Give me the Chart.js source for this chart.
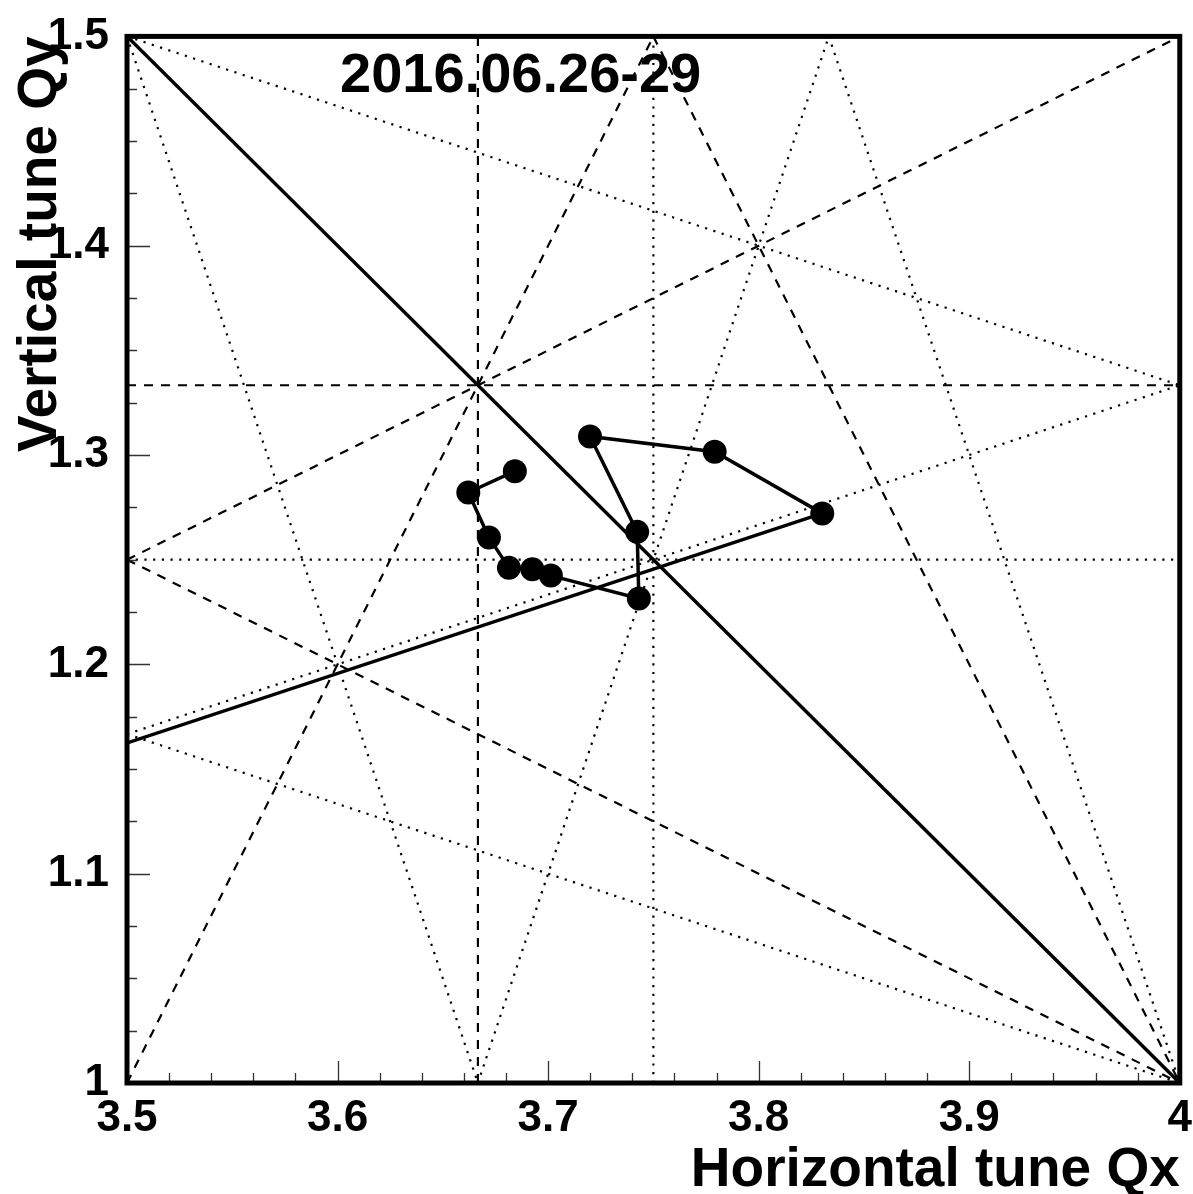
<!DOCTYPE html>
<html>
<head>
<meta charset="utf-8">
<title>Tune diagram</title>
<script src="https://cdn.jsdelivr.net/npm/chart.js@4.4.1/dist/chart.umd.min.js"></script>
<style>
  html, body { margin: 0; padding: 0; background: #fff; }
</style>
</head>
<body>
<canvas id="tuneChart" width="1193" height="1194"></canvas>
<script>
const periodLabel = '2016.06.26-29';

// measured working point, last entry is the empty (0,0) slot of the graph
const tuneQx = [3.6842, 3.6621, 3.6719, 3.6814, 3.6925, 3.7013, 3.7431, 3.7423, 3.7199, 3.7791, 3.8302, 0];
const tuneQy = [1.2923, 1.2821, 1.2606, 1.2461, 1.2454, 1.2424, 1.2315, 1.2633, 1.3089, 1.3016, 1.2721, 0];

const qxTicks = [3.5, 3.6, 3.7, 3.8, 3.9, 4];
const qyTicks = [1, 1.1, 1.2, 1.3, 1.4, 1.5];

// resonance lines  a*Qx + b*Qy = c
const secondOrder = [[1, 1, 5]];
const thirdOrder = [[3, 0, 11], [0, 3, 4], [1, 2, 6], [1, -2, 1], [2, 1, 9], [2, -1, 6]];
const fourthOrder = [[4, 0, 15], [0, 4, 5], [3, 1, 12], [3, 1, 13], [3, -1, 10], [1, 3, 7], [1, 3, 8], [1, -3, 0]];

const QX_MIN = 3.5, QX_MAX = 4, QY_MIN = 1, QY_MAX = 1.5;
const FONT = "'Liberation Sans', Arial, Helvetica, sans-serif";

// endpoints of a resonance line inside the tune box
function clipToBox([a, b, c]) {
    const eps = 1e-9;
    const pts = [];
    if (b !== 0) {
        [QX_MIN, QX_MAX].forEach(x => {
            const y = (c - a * x) / b;
            if (y >= QY_MIN - eps && y <= QY_MAX + eps) pts.push({ x, y });
        });
    }
    if (a !== 0) {
        [QY_MIN, QY_MAX].forEach(y => {
            const x = (c - b * y) / a;
            if (x >= QX_MIN - eps && x <= QX_MAX + eps) pts.push({ x, y });
        });
    }
    pts.sort((p, q) => p.x - q.x || p.y - q.y);
    return [pts[0], pts[pts.length - 1]];
}

function resonanceSet(line, width, dash) {
    return {
        data: clipToBox(line),
        showLine: true,
        borderColor: '#000',
        borderWidth: width,
        borderDash: dash,
        pointRadius: 0,
        pointHoverRadius: 0,
        order: 2,
    };
}

const datasets = [
    {
        data: tuneQx.map((x, i) => ({ x, y: tuneQy[i] })),
        showLine: true,
        borderColor: '#000',
        borderWidth: 3.5,
        pointRadius: 12,
        pointHoverRadius: 12,
        pointBackgroundColor: '#000',
        pointBorderWidth: 0,
        order: 0,
    },
    ...secondOrder.map(l => resonanceSet(l, 3.5, [])),
    ...thirdOrder.map(l => resonanceSet(l, 2.2, [9, 8])),
    ...fourthOrder.map(l => resonanceSet(l, 2.2, [2.2, 6.5])),
];

// frame, inward ticks and the period label
const tuneFrame = {
    id: 'tuneFrame',
    afterDraw(chart) {
        const { ctx, chartArea: { left, right, top, bottom }, scales: { x, y } } = chart;
        ctx.save();
        ctx.strokeStyle = '#333';
        ctx.lineWidth = 1.3;
        ctx.beginPath();
        for (let i = 0; i <= 25; i++) {
            const px = Math.round(x.getPixelForValue(QX_MIN + i * 0.02)) + 0.5;
            const len = i % 5 === 0 ? 22 : 10;
            ctx.moveTo(px, bottom);
            ctx.lineTo(px, bottom - len);
        }
        for (let i = 0; i <= 20; i++) {
            const py = Math.round(y.getPixelForValue(QY_MIN + i * 0.025)) + 0.5;
            const len = i % 4 === 0 ? 23 : 10;
            ctx.moveTo(left, py);
            ctx.lineTo(left + len, py);
        }
        ctx.stroke();

        ctx.strokeStyle = '#000';
        ctx.lineWidth = 5;
        ctx.strokeRect(left, top, right - left, bottom - top);

        ctx.fillStyle = '#000';
        ctx.font = `bold 56px ${FONT}`;
        ctx.textAlign = 'left';
        ctx.textBaseline = 'alphabetic';
        ctx.fillText(periodLabel, 340, 92);
        ctx.restore();
    },
};

const tickFont = { family: FONT, size: 44, weight: 'bold' };
const fmt = v => String(parseFloat(Number(v).toFixed(3)));

new Chart(document.getElementById('tuneChart'), {
    type: 'scatter',
    data: { datasets },
    options: {
        responsive: false,
        devicePixelRatio: 1,
        animation: false,
        events: [],
        layout: { padding: { left: 0, right: 13, top: 27, bottom: 0 } },
        plugins: {
            legend: { display: false },
            tooltip: { enabled: false },
        },
        scales: {
            x: {
                type: 'linear',
                min: QX_MIN,
                max: QX_MAX,
                afterBuildTicks: s => { s.ticks = qxTicks.map(value => ({ value })); },
                afterFit: s => { s.height = 111; },
                border: { display: false },
                grid: { display: false },
                ticks: { color: '#000', font: tickFont, padding: 1, maxRotation: 0, autoSkip: false, callback: fmt },
                title: {
                    display: true, text: 'Horizontal tune Qx', align: 'end', color: '#000',
                    font: { family: FONT, size: 55, weight: 'bold', lineHeight: 0.86 }, padding: 0,
                },
            },
            y: {
                type: 'linear',
                min: QY_MIN,
                max: QY_MAX,
                afterBuildTicks: s => { s.ticks = qyTicks.map(value => ({ value })); },
                afterFit: s => { s.width = 127; },
                border: { display: false },
                grid: { display: false },
                ticks: { color: '#000', font: tickFont, padding: 10, autoSkip: false, callback: fmt },
                title: {
                    display: true, text: 'Vertical tune Qy', align: 'end', color: '#000',
                    font: { family: FONT, size: 55, weight: 'bold', lineHeight: 1 }, padding: { top: 13.5, bottom: 0 },
                },
            },
        },
    },
    plugins: [tuneFrame],
});
</script>
</body>
</html>
